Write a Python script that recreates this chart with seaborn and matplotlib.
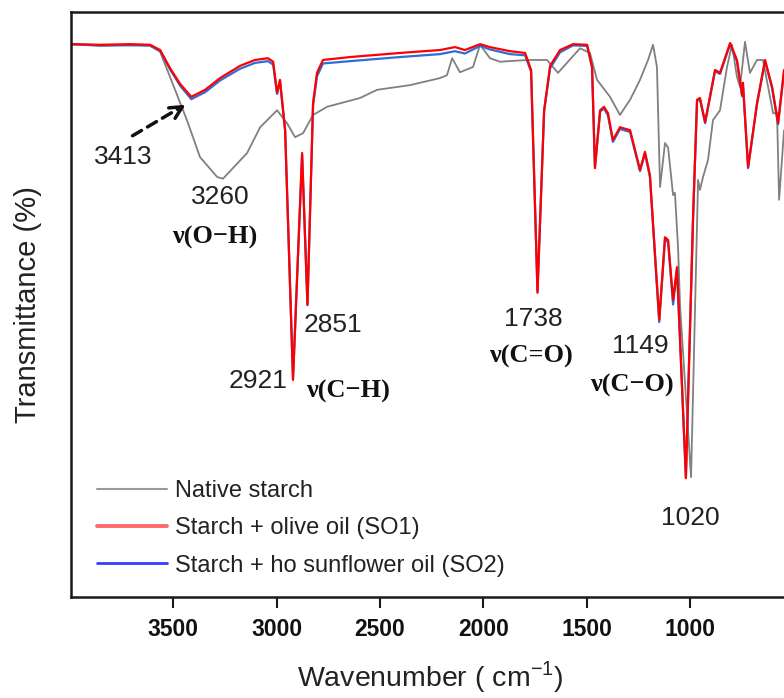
import pandas as pd
import seaborn as sns
import matplotlib.pyplot as plt
from matplotlib.lines import Line2D

# wavenumbers (cm-1) read for the two oil-treated samples
WN_OIL = [3995, 3854, 3709, 3613, 3564, 3516, 3467, 3413, 3346, 3274, 3177, 3105,
          3042, 3017, 2998, 2984, 2959, 2921, 2877, 2851, 2824, 2805, 2776, 2645,
          2403, 2210, 2137, 2089, 2016, 1968, 1871, 1798, 1769, 1738, 1706, 1677,
          1629, 1566, 1498, 1474, 1460, 1435, 1416, 1397, 1373, 1339, 1290, 1242,
          1218, 1194, 1149, 1121, 1106, 1082, 1063, 1020, 985, 966, 952, 927,
          879, 855, 806, 773, 748, 744, 719, 676, 637, 603, 574, 545]
T_SO1 = [94.5, 94.4, 94.5, 94.4, 93.5, 90.4, 87.7, 85.5, 86.7, 88.7, 90.8, 91.8,
         92.1, 91.5, 86.2, 88.4, 79.8, 37.1, 75.9, 49.9, 84.4, 89.6, 91.8, 92.3,
         93.0, 93.5, 94.0, 93.5, 94.5, 94.0, 93.3, 93.0, 90.1, 52.0, 83.2, 90.8,
         93.5, 94.5, 94.4, 90.6, 73.3, 83.2, 83.8, 82.7, 78.1, 80.3, 79.8, 73.0,
         76.1, 72.1, 47.4, 61.5, 61.0, 50.8, 56.4, 20.3, 65.3, 85.0, 85.3, 81.2,
         90.1, 89.6, 94.7, 91.8, 85.8, 87.9, 73.5, 84.4, 91.8, 87.2, 81.0, 90.1]
T_SO2 = [94.5, 94.3, 94.3, 94.3, 93.4, 90.2, 87.4, 85.1, 86.3, 88.3, 90.3, 91.3,
         91.6, 91.0, 86.0, 88.2, 79.6, 37.3, 75.6, 50.0, 84.0, 89.0, 91.2, 91.6,
         92.3, 92.8, 93.3, 92.9, 94.2, 93.6, 92.8, 92.6, 89.8, 52.3, 83.0, 90.4,
         93.1, 94.3, 94.2, 90.5, 73.5, 83.0, 83.5, 82.3, 77.8, 80.0, 79.5, 72.8,
         75.8, 71.8, 47.0, 61.2, 60.6, 50.0, 56.0, 20.5, 65.1, 84.8, 85.1, 81.0,
         89.9, 89.4, 94.5, 91.6, 85.6, 87.7, 73.3, 84.2, 91.6, 87.0, 80.8, 89.9]

# native starch
WN_NATIVE = [3995, 3854, 3709, 3613, 3564, 3516, 3434, 3371, 3288, 3260, 3143, 3080,
             2998, 2950, 2911, 2872, 2824, 2756, 2597, 2514, 2355, 2210, 2176, 2151,
             2113, 2050, 2016, 1968, 1919, 1789, 1692, 1639, 1532, 1484, 1450, 1387,
             1339, 1290, 1242, 1203, 1179, 1160, 1145, 1121, 1106, 1082, 1073, 1058,
             1048, 995, 961, 952, 937, 913, 889, 855, 821, 797, 773, 758,
             734, 710, 676, 647, 598, 579, 569, 545]
T_NATIVE = [94.5, 94.2, 94.4, 94.2, 93.2, 88.9, 81.5, 75.2, 71.8, 71.5, 75.9, 80.3,
            83.2, 81.0, 78.6, 79.3, 82.4, 83.8, 85.3, 86.7, 87.5, 88.7, 89.2, 92.1,
            89.7, 90.6, 94.4, 92.1, 91.5, 91.8, 91.8, 89.6, 93.8, 93.0, 88.4, 85.5,
            82.4, 85.0, 88.4, 91.8, 94.4, 90.6, 70.1, 77.6, 76.8, 68.7, 69.1, 59.8,
            49.6, 20.5, 71.3, 69.6, 71.8, 74.7, 81.5, 83.2, 90.6, 94.4, 88.9, 87.2,
            94.9, 89.6, 91.8, 91.8, 82.7, 82.7, 67.9, 79.8]

NAMES = ["Native starch", "Starch + olive oil (SO1)", "Starch + ho sunflower oil (SO2)"]

df = pd.concat([
    pd.DataFrame({"wn": WN_NATIVE, "T": T_NATIVE, "sample": NAMES[0]}),
    pd.DataFrame({"wn": WN_OIL, "T": T_SO1, "sample": NAMES[1]}),
    pd.DataFrame({"wn": WN_OIL, "T": T_SO2, "sample": NAMES[2]}),
])

sns.set_theme(style="white")
plt.rcParams['font.family'] = ['Liberation Sans', 'DejaVu Sans']
plt.rcParams['mathtext.fontset'] = 'custom'
plt.rcParams['mathtext.rm'] = 'Liberation Sans'

TXT = "#222222"
fig = plt.figure(figsize=(7.84, 6.98), dpi=100)
ax = fig.add_axes([0.0906, 0.1447, 0.9477, 0.8381])

styles = {NAMES[0]: ("#808080", 1.3), NAMES[2]: ("#2a6fdb", 1.6), NAMES[1]: ("#ff0000", 1.6)}
for name in [NAMES[0], NAMES[2], NAMES[1]]:
    c, lw = styles[name]
    sns.lineplot(data=df[df["sample"] == name], x="wn", y="T", color=c, linewidth=lw,
                 estimator=None, sort=False, ax=ax)

ax.set_xlim(3995, 400)
ax.set_ylim(0, 100)
ax.set_yticks([])
ax.set_xticks([3500, 3000, 2500, 2000, 1500, 1000])
ax.tick_params(axis='x', bottom=True, direction='out', length=8, width=1.5, pad=7,
               labelsize=16.5, color="#1a1a1a", labelcolor="#111111")
for lbl in ax.get_xticklabels():
    lbl.set_fontweight('bold')
for s in ax.spines.values():
    s.set_linewidth(1.8)
    s.set_color("#1a1a1a")

ax.set_xlabel("Wavenumber ( cm$^{\\mathregular{-1}}$)", fontsize=20.5, color=TXT)
ax.xaxis.set_label_coords(0.483, -0.107)
ax.set_ylabel("Transmittance (%)", fontsize=21, color=TXT)
ax.yaxis.set_label_coords(-0.039, 0.5)

# peak labels
for x, y, s in [(3743, 75.2, "3413"), (3274, 68.4, "3260"), (3090, 36.9, "2921"),
                (2727, 46.5, "2851"), (1760, 47.5, "1738"), (1242, 42.9, "1149"),
                (1000, 13.5, "1020")]:
    ax.text(x, y, s, fontsize=19, color=TXT, ha='center', va='center')
for x, y, s in [(3298, 61.5, "ν(O−H)"), (2655, 35.2, "ν(C−H)"),
                (1769, 41.2, "ν(C=O)"), (1281, 36.2, "ν(C−O)")]:
    ax.text(x, y, s, fontsize=19, color="#111111", ha='center', va='center',
            family=['Liberation Serif', 'DejaVu Serif'], fontweight='bold')

# dashed arrow to the 3413 band
ax.annotate("", xy=(3455, 83.9), xytext=(3709, 78.6),
            arrowprops=dict(arrowstyle='-', linestyle=(0, (3, 2)), lw=2.5, color="#111111"))
ax.annotate("", xy=(3429, 84.4), xytext=(3480, 83.3),
            arrowprops=dict(arrowstyle='->', lw=2.5, color="#111111",
                            mutation_scale=22))

handles = [Line2D([], [], color="#9a9a9a", lw=1.5),
           Line2D([], [], color="#ff6a6a", lw=2.8),
           Line2D([], [], color="#3a3aff", lw=2.0)]
ax.legend(handles, NAMES, loc='upper left', bbox_to_anchor=(0.035, 0.20), frameon=False,
          fontsize=17, handlelength=2.95, handletextpad=0.35, labelspacing=0.65,
          borderpad=0, borderaxespad=0, labelcolor=TXT)

fig.savefig("out.png", dpi=100)
